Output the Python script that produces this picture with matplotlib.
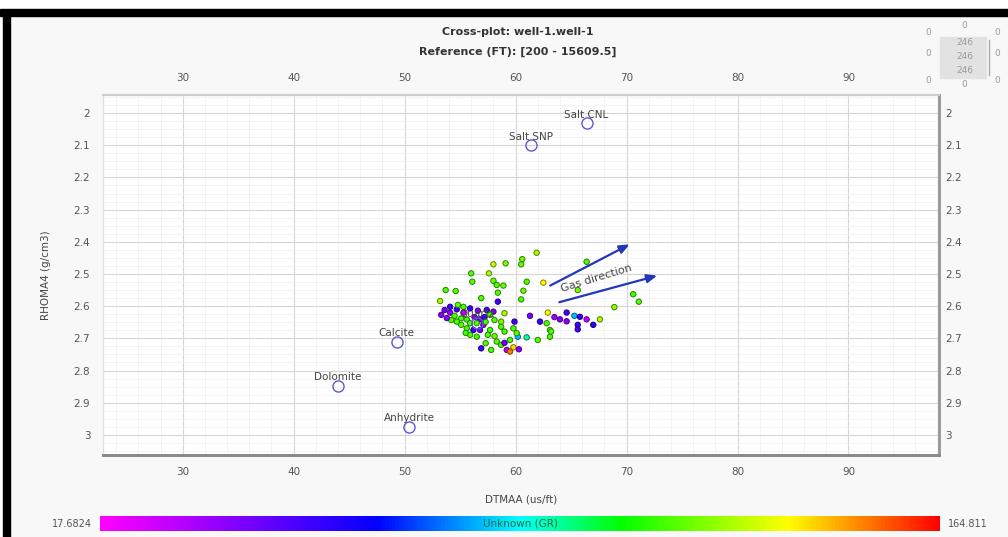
import numpy as np
import matplotlib
matplotlib.use('Agg')
import matplotlib.pyplot as plt
from matplotlib.colors import LinearSegmentedColormap, Normalize
from matplotlib.cm import ScalarMappable
from matplotlib.patches import Rectangle
from matplotlib.ticker import MultipleLocator

# datos del crossplot
dtmaa = [61.9, 60.6, 60.5, 59.1, 58.0, 66.4, 56.0, 57.6, 56.1, 58.0,
         58.3, 58.9, 61.0, 60.7, 62.5, 58.4, 56.9, 60.5, 53.7, 54.6,
         53.2, 65.6, 70.6, 71.1, 68.9, 67.6, 62.9, 53.6, 54.1, 54.7,
         55.3, 55.9, 56.6, 57.4, 58.0, 58.4, 54.5, 55.1, 55.6, 56.3,
         56.8, 57.2, 55.9, 56.5, 57.1, 56.2, 56.8, 55.6, 55.1, 55.9,
         56.5, 57.7, 58.1, 58.7, 58.7, 59.9, 59.8, 60.2, 61.0, 61.3,
         62.2, 63.1, 62.8, 62.0, 63.5, 64.0, 64.6, 65.3, 65.8, 66.4,
         65.6, 65.6, 67.0, 56.9, 58.3, 58.7, 59.2, 59.8, 60.3, 59.5,
         57.8, 57.3, 59.5, 60.1, 59.0, 57.5, 55.3, 54.1, 53.3, 54.2,
         54.7, 58.1, 57.7, 59.0, 64.6, 63.2, 63.1, 53.8, 54.8, 57.3,
         59.0, 55.5]
rhomaa = [2.434, 2.454, 2.470, 2.467, 2.470, 2.462, 2.498, 2.498, 2.524, 2.521,
          2.534, 2.536, 2.524, 2.552, 2.527, 2.558, 2.575, 2.579, 2.550, 2.553,
          2.584, 2.550, 2.563, 2.586, 2.603, 2.641, 2.620, 2.612, 2.620, 2.610,
          2.620, 2.607, 2.614, 2.612, 2.617, 2.586, 2.630, 2.638, 2.641, 2.634,
          2.641, 2.634, 2.653, 2.653, 2.658, 2.674, 2.674, 2.669, 2.658, 2.689,
          2.695, 2.674, 2.693, 2.664, 2.648, 2.648, 2.669, 2.695, 2.697, 2.630,
          2.648, 2.674, 2.653, 2.705, 2.634, 2.641, 2.620, 2.630, 2.633, 2.641,
          2.658, 2.672, 2.658, 2.731, 2.710, 2.720, 2.736, 2.728, 2.734, 2.741,
          2.736, 2.715, 2.705, 2.684, 2.679, 2.689, 2.602, 2.602, 2.627, 2.643,
          2.648, 2.643, 2.627, 2.622, 2.647, 2.679, 2.695, 2.637, 2.596, 2.649,
          2.714, 2.683]
gr = [128, 120, 120, 122, 132, 118, 118, 128, 118, 120,
      117, 120, 118, 120, 138, 118, 117, 118, 117, 118,
      128, 122, 117, 118, 125, 128, 138, 45, 40, 55,
      30, 55, 42, 55, 42, 55, 118, 117, 116, 40,
      45, 55, 117, 118, 40, 55, 45, 117, 118, 117,
      116, 117, 120, 118, 122, 55, 117, 85, 98, 42,
      55, 117, 118, 118, 35, 42, 55, 85, 55, 30,
      55, 55, 60, 55, 118, 117, 30, 142, 40, 152,
      117, 118, 117, 118, 117, 117, 117, 55, 40, 118,
      117, 118, 118, 128, 40, 118, 116, 40, 118, 117,
      45, 116]

lith_names = ['Salt CNL', 'Salt SNP', 'Calcite', 'Dolomite', 'Anhydrite', 'Quartz']
lith_dtmaa = [66.4, 61.4, 49.3, 44.0, 50.4, 56.5]
lith_rhomaa = [2.031, 2.100, 2.711, 2.848, 2.975, 2.652]

gas_x0 = [62.9, 63.7]
gas_y0 = [2.540, 2.590]
gas_x1 = [70.5, 73.0]
gas_y1 = [2.404, 2.503]

gr_min, gr_max = 17.6824, 164.811

cmap = LinearSegmentedColormap.from_list('gr', [
    (0.0, '#ff00ff'), (0.33, '#0000ff'), (0.5, '#00ffff'),
    (0.62, '#00ff00'), (0.82, '#ffff00'), (1.0, '#ff0000')])
norm = Normalize(gr_min, gr_max)

fig = plt.figure(figsize=(10.08, 5.37), dpi=100)
fig.patch.set_facecolor('#f8f8f8')

# marco negro arriba y a la izquierda
fig.patches.append(Rectangle((0, 0.983), 1, 0.017, transform=fig.transFigure, color='white', zorder=0))
fig.patches.append(Rectangle((0, 0.971), 1, 0.013, transform=fig.transFigure, color='black', zorder=1))
fig.patches.append(Rectangle((0.0, 0), 0.003, 0.983, transform=fig.transFigure, color='white', zorder=0))
fig.patches.append(Rectangle((0.003, 0), 0.007, 0.975, transform=fig.transFigure, color='black', zorder=1))

ax = fig.add_axes([0.102, 0.153, 0.830, 0.670])
ax.set_facecolor('white')
ax.set_xlim(22.8, 98.2)
ax.set_ylim(3.062, 1.944)

ax.xaxis.set_major_locator(MultipleLocator(10))
ax.xaxis.set_minor_locator(MultipleLocator(2))
ax.yaxis.set_major_locator(MultipleLocator(0.1))
ax.yaxis.set_minor_locator(MultipleLocator(0.025))
ax.grid(True, which='major', color='#d6d6d6', linewidth=0.8)
ax.grid(True, which='minor', color='#f0f0f0', linewidth=0.5)
ax.set_axisbelow(True)

fmt = plt.FuncFormatter(lambda v, p: ('%.1f' % v).rstrip('0').rstrip('.'))
ax.yaxis.set_major_formatter(fmt)
ax.tick_params(which='both', length=0, labelsize=7.5, labelcolor='#555555',
               top=True, labeltop=True)
ax.tick_params(axis='x', which='major', pad=9)
ax.tick_params(axis='y', which='major', pad=9)

# etiquetas del eje derecho mas pegadas
ax2 = ax.twinx()
ax2.set_ylim(ax.get_ylim())
ax2.yaxis.set_major_locator(MultipleLocator(0.1))
ax2.yaxis.set_major_formatter(fmt)
ax2.tick_params(length=0, labelsize=7.5, labelcolor='#555555', pad=4)

for a in (ax, ax2):
    a.spines['left'].set_color('#e0e0e0')
    a.spines['top'].set_color('#cccccc')
    a.spines['top'].set_linewidth(1.5)
    a.spines['right'].set_color('#9a9a9a')
    a.spines['right'].set_linewidth(2.0)
    a.spines['bottom'].set_color('#8a8a8a')
    a.spines['bottom'].set_linewidth(2.0)

colors = cmap(norm(np.array(gr)))
edges = colors.copy()
edges[:, :3] = edges[:, :3] * 0.5
ax.scatter(dtmaa, rhomaa, s=15, c=colors, edgecolors=edges, linewidths=0.7, zorder=3)

ax.plot(lith_dtmaa, lith_rhomaa, 'o', ms=8, mfc='none', mec='#5a5ad6', mew=1.0, zorder=4)
for name, xv, yv in zip(lith_names, lith_dtmaa, lith_rhomaa):
    ax.annotate(name, (xv, yv), xytext=(0, 2.5), textcoords='offset points',
                ha='center', va='bottom', fontsize=7.5, color='#444444', zorder=5)

for xa, ya, xb, yb in zip(gas_x0, gas_y0, gas_x1, gas_y1):
    ax.annotate('', xy=(xb, yb), xytext=(xa, ya),
                arrowprops=dict(arrowstyle='-|>,head_length=0.6,head_width=0.25',
                                color='#2436b8', lw=1.6), zorder=5)
ax.text(67.3, 2.515, 'Gas direction', rotation=17, ha='center', va='center',
        fontsize=8, color='#444444', zorder=5)

ax.set_xlabel('DTMAA (us/ft)', fontsize=7.5, color='#444444', labelpad=12)
ax.set_ylabel('RHOMA4 (g/cm3)', fontsize=7.5, color='#444444', labelpad=16)

fig.text(0.514, 0.940, 'Cross-plot: well-1.well-1', ha='center', va='center',
         fontsize=8, fontweight='bold', color='#333333')
fig.text(0.514, 0.903, 'Reference (FT): [200 - 15609.5]', ha='center', va='center',
         fontsize=8, fontweight='bold', color='#333333')

# widget de arriba a la derecha
fig.patches.append(Rectangle((0.933, 0.855), 0.045, 0.077, transform=fig.transFigure,
                             color='#e2e2e2', zorder=0))
fig.lines.append(plt.Line2D([0.981, 0.981], [0.86, 0.925], transform=fig.transFigure,
                            color='#aaaaaa', lw=1))
wcol = '#9a9a9a'
for xv, yv in [(0.921, 0.940), (0.957, 0.953), (0.989, 0.940),
               (0.921, 0.901), (0.989, 0.901),
               (0.921, 0.851), (0.957, 0.842), (0.989, 0.851)]:
    fig.text(xv, yv, '0', ha='center', va='center', fontsize=6.5, color=wcol)
for yv in [0.920, 0.894, 0.869]:
    fig.text(0.957, yv, '246', ha='center', va='center', fontsize=6.5, color=wcol)

cax = fig.add_axes([0.099, 0.011, 0.834, 0.028])
cb = fig.colorbar(ScalarMappable(norm=norm, cmap=cmap), cax=cax, orientation='horizontal')
cb.set_ticks([])
cb.outline.set_visible(False)
cax.text(0.5, 0.5, 'Unknown (GR)', transform=cax.transAxes, ha='center', va='center',
         fontsize=7.5, color='#2a6a3a')
fig.text(0.091, 0.025, '17.6824', ha='right', va='center', fontsize=7, color='#555555')
fig.text(0.940, 0.025, '164.811', ha='left', va='center', fontsize=7, color='#555555')

fig.savefig('out.png', dpi=100, facecolor=fig.get_facecolor())
